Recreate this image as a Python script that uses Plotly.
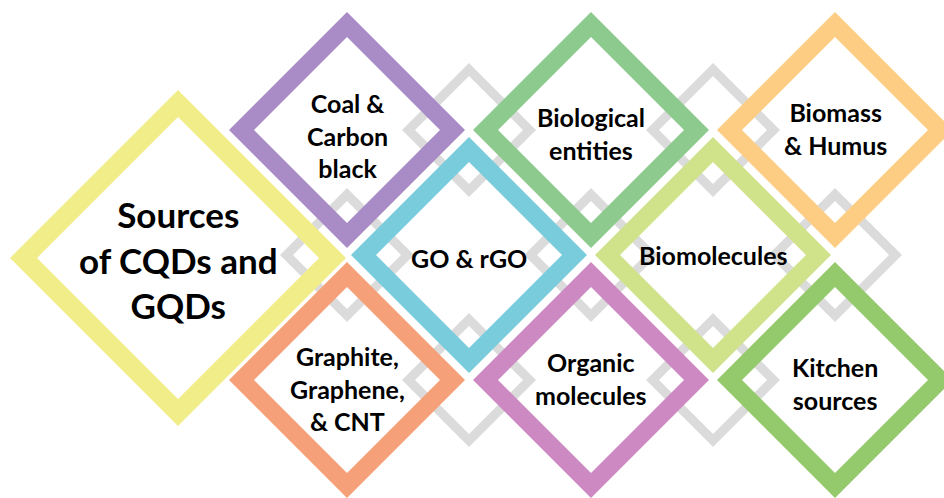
import plotly.graph_objects as go

# ---- data ----
labels = ["Coal &<br>Carbon<br>black", "GO & rGO", "Graphite,<br>Graphene,<br>& CNT",
          "Biological<br>entities", "Biomolecules", "Organic<br>molecules",
          "Biomass<br>& Humus", "Kitchen<br>sources"]
label_col = [0, 1, 0, 2, 3, 2, 4, 4]
label_row = [0, 1, 2, 0, 1, 2, 0, 2]
label_colors = ["#A98BC5", "#78CCDC", "#F5A079", "#8DCA8E", "#D0E28A",
                "#CD8AC2", "#FDCD84", "#94CA6C"]
text_dy = [5, 3, 8, 3, 0, -2, -2, 3]

grey_col = [1, 3, 0, 2, 4, 1, 3]
grey_row = [0, 0, 1, 1, 1, 2, 2]

title_text = "Sources<br>of CQDs and<br>GQDs"
title_color = "#F1EE8A"

# ---- layout constants ----
X0, Y0, DX, DY = 347, 130, 122, 125
W, H = 944, 498


def diamond_path(cx, cy, R, t):
    r = R - t
    outer = f"M {cx},{cy-R} L {cx+R},{cy} L {cx},{cy+R} L {cx-R},{cy} Z"
    inner = f" M {cx},{cy-r} L {cx+r},{cy} L {cx},{cy+r} L {cx-r},{cy} Z"
    return outer + inner


shapes = []
for c, r in zip(grey_col, grey_row):
    cx, cy = X0 + DX * c, Y0 + DY * r
    shapes.append(dict(type="path", path=diamond_path(cx, cy, 67, 13), xref="x", yref="y",
                       fillcolor="#DBDBDB", line=dict(width=0), fillrule="evenodd", layer="above"))

shapes.append(dict(type="path", path=diamond_path(178, 258, 168, 27), xref="x", yref="y",
                   fillcolor=title_color, line=dict(width=0), fillrule="evenodd", layer="above"))

for c, r, col in zip(label_col, label_row, label_colors):
    cx, cy = X0 + DX * c, Y0 + DY * r
    shapes.append(dict(type="path", path=diamond_path(cx, cy, 118, 25), xref="x", yref="y",
                       fillcolor=col, line=dict(width=0), fillrule="evenodd", layer="above"))

annotations = []
for lab, c, r, dy in zip(labels, label_col, label_row, text_dy):
    cx, cy = X0 + DX * c, Y0 + DY * r
    annotations.append(dict(x=cx, y=cy + dy, xref="x", yref="y", text=f"<b>{lab}</b>",
                            showarrow=False, font=dict(family="Lato", size=25, color="black"),
                            align="center", xanchor="center", yanchor="middle"))
annotations.append(dict(x=178, y=259, xref="x", yref="y", text=f"<b>{title_text}</b>",
                        showarrow=False, font=dict(family="Lato", size=35, color="black"),
                        align="center", xanchor="center", yanchor="middle"))

fig = go.Figure()
fig.add_trace(go.Scatter(x=[0, W], y=[0, H], mode="markers", marker=dict(opacity=0),
                         hoverinfo="skip", showlegend=False))
fig.update_layout(
    width=W, height=H, margin=dict(l=0, r=0, t=0, b=0),
    paper_bgcolor="white", plot_bgcolor="white",
    xaxis=dict(range=[0, W], visible=False, fixedrange=True),
    yaxis=dict(range=[H, 0], visible=False, fixedrange=True),
    shapes=shapes, annotations=annotations, showlegend=False,
)
fig.write_html("out.html", config={"displayModeBar": False},
               post_script="document.body.style.margin='0';document.body.style.overflow='hidden';")
